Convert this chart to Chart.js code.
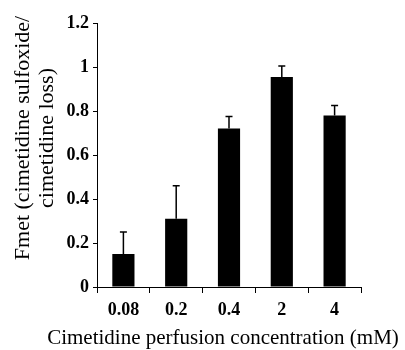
<!DOCTYPE html>
<html>
<head>
<meta charset="utf-8">
<script src="https://cdn.jsdelivr.net/npm/chart.js@4"></script>
<style>
html, body { margin: 0; padding: 0; background: #fff; }
#wrap { width: 405px; height: 350px; }
</style>
</head>
<body>
<div id="wrap"><canvas id="myChart"></canvas></div>
<script>
var concLabels = ["0.08", "0.2", "0.4", "2", "4"];
var fmetValues = [0.15, 0.31, 0.72, 0.955, 0.78];
var fmetErrors = [0.10, 0.15, 0.055, 0.05, 0.045];
var yMax = 1.2;
var yStep = 0.2;
var xTitle = "Cimetidine perfusion concentration (mM)";
var yTitle = ["Fmet (cimetidine sulfoxide/", "cimetidine loss)"];

// upper error bars only, like the original figure
var errorBars = {
    id: "errorBars",
    afterDatasetsDraw: function (chart) {
        var ctx = chart.ctx;
        var yScale = chart.scales.y;
        var meta = chart.getDatasetMeta(0);
        ctx.save();
        ctx.strokeStyle = "#000";
        ctx.lineWidth = 1.5;
        meta.data.forEach(function (bar, i) {
            var yTop = yScale.getPixelForValue(fmetValues[i]);
            var yErr = yScale.getPixelForValue(fmetValues[i] + fmetErrors[i]);
            ctx.beginPath();
            ctx.moveTo(bar.x, yTop);
            ctx.lineTo(bar.x, yErr);
            ctx.moveTo(bar.x - 3.5, yErr);
            ctx.lineTo(bar.x + 3.5, yErr);
            ctx.stroke();
        });
        ctx.restore();
    }
};

// axis titles drawn by hand so they sit where the figure has them
var axisTitles = {
    id: "axisTitles",
    afterDraw: function (chart) {
        var ctx = chart.ctx;
        var area = chart.chartArea;
        ctx.save();
        ctx.fillStyle = "#000";
        ctx.font = "21px 'Liberation Serif'";
        ctx.textAlign = "center";
        ctx.textBaseline = "alphabetic";
        ctx.fillText(xTitle, (area.left + area.right) / 2 - 6, area.bottom + 57);
        ctx.font = "22px 'Liberation Serif'";
        ctx.translate(0, (area.top + area.bottom) / 2 - 17);
        ctx.rotate(-Math.PI / 2);
        ctx.fillText(yTitle[0], 0, 29);
        ctx.fillText(yTitle[1], 0, 53);
        ctx.restore();
    }
};

new Chart("myChart", {
    type: "bar",
    data: {
        labels: concLabels,
        datasets: [{
            data: fmetValues,
            backgroundColor: "#000",
            borderWidth: 0,
            categoryPercentage: 1,
            barPercentage: 0.42
        }]
    },
    options: {
        responsive: true,
        maintainAspectRatio: false,
        animation: false,
        layout: { padding: { top: 23, right: 44, left: 0, bottom: 0 } },
        plugins: {
            legend: { display: false },
            tooltip: { enabled: false }
        },
        scales: {
            x: {
                grid: { offset: true, drawOnChartArea: false, tickLength: 6, color: "#000" },
                border: { color: "#000", width: 1 },
                ticks: { color: "#000", padding: 7, font: { family: "'Liberation Serif'", size: 18, weight: "bold" } },
                afterFit: function (scale) { scale.height = 63; }
            },
            y: {
                min: 0,
                max: yMax,
                grid: { drawOnChartArea: false, tickLength: 4, color: "#000" },
                border: { color: "#000", width: 1 },
                ticks: {
                    stepSize: yStep,
                    color: "#000",
                    padding: 4,
                    font: { family: "'Liberation Serif'", size: 18, weight: "bold" },
                    callback: function (value) { return String(+value.toFixed(1)); }
                },
                afterFit: function (scale) { scale.width = 97; }
            }
        }
    },
    plugins: [errorBars, axisTitles]
});
</script>
</body>
</html>
